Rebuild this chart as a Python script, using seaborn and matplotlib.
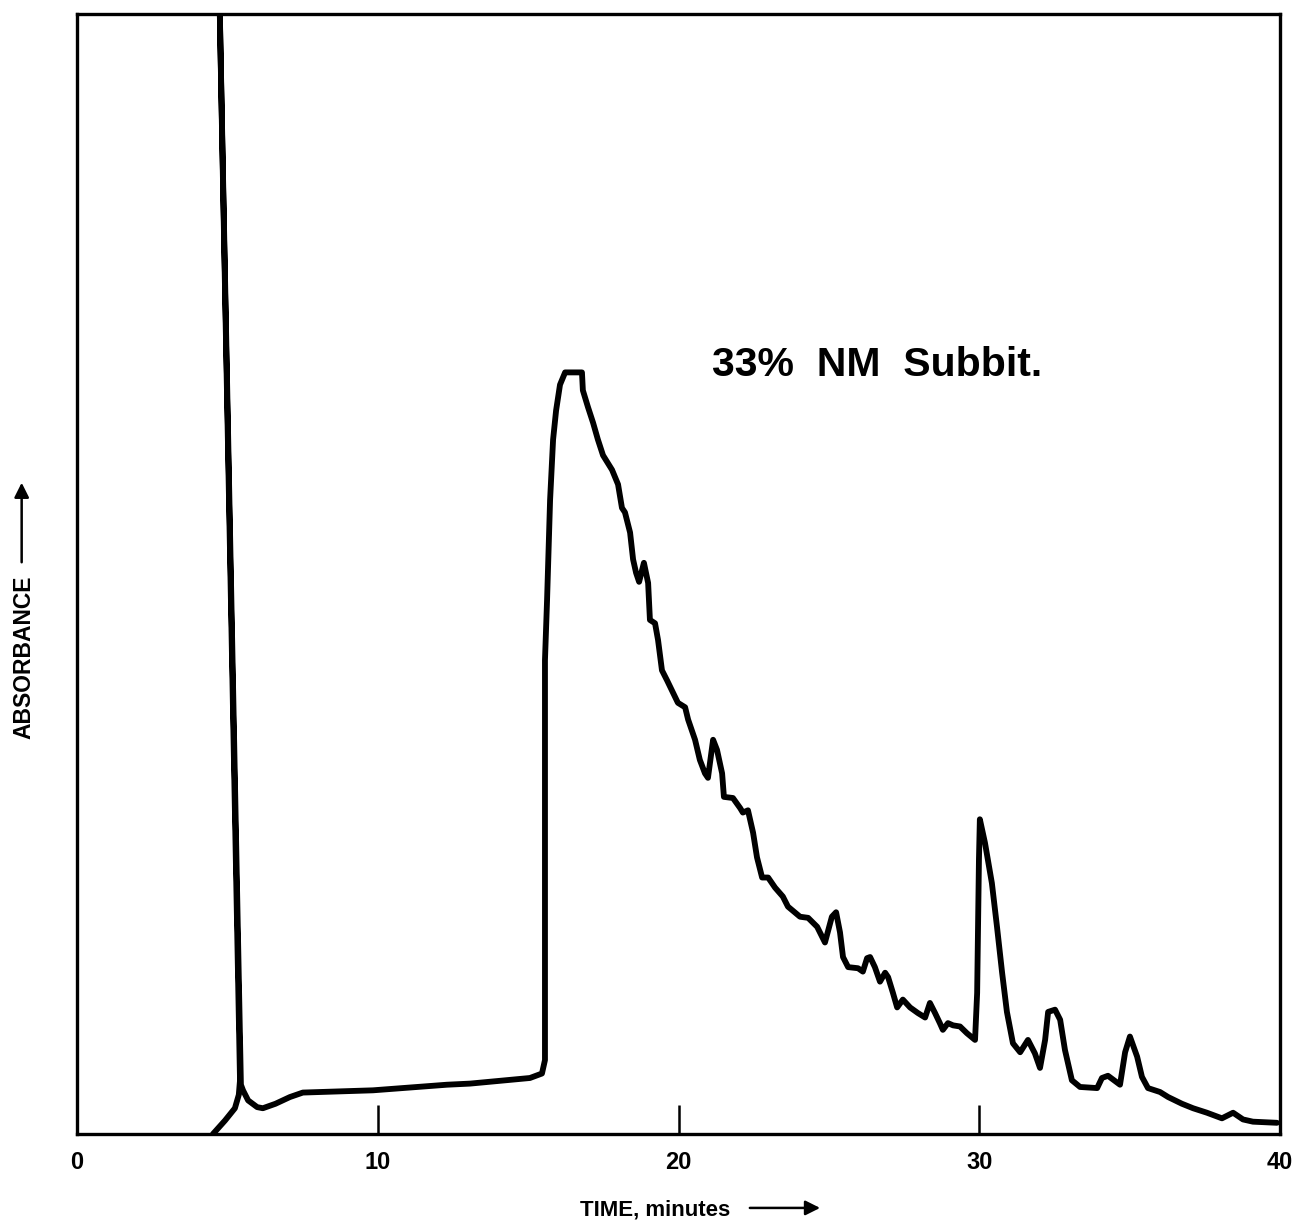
import matplotlib
matplotlib.use("Agg")
import matplotlib.pyplot as plt
import seaborn as sns
import pandas as pd

# ---- data ----
time_min = [
    4.52, 4.92, 5.25, 5.38, 5.42, 4.72, 5.45, 5.52, 5.69, 5.99, 6.18, 6.60, 7.08, 7.51,
    9.84, 12.30, 13.07, 15.06, 15.46, 15.56, 15.56, 15.63, 15.73, 15.83, 15.93, 16.06,
    16.23, 16.79, 16.82, 16.99, 17.16, 17.32, 17.49, 17.79, 17.99, 18.12, 18.22, 18.39,
    18.49, 18.59, 18.69, 18.85, 18.99, 19.05, 19.22, 19.32, 19.45, 19.62, 19.82, 19.98,
    20.22, 20.32, 20.55, 20.71, 20.88, 20.98, 21.15, 21.28, 21.45, 21.51, 21.81, 22.05,
    22.14, 22.31, 22.48, 22.61, 22.78, 22.98, 23.21, 23.47, 23.64, 24.04, 24.31, 24.61,
    24.87, 25.10, 25.24, 25.37, 25.47, 25.64, 25.97, 26.13, 26.27, 26.37, 26.53, 26.70,
    26.87, 26.97, 27.13, 27.27, 27.46, 27.70, 27.96, 28.20, 28.36, 28.53, 28.69, 28.79,
    28.96, 29.13, 29.36, 29.59, 29.86, 29.93, 29.99, 30.02, 30.19, 30.42, 30.59, 30.76,
    30.92, 31.12, 31.36, 31.62, 31.85, 32.02, 32.19, 32.29, 32.52, 32.69, 32.85, 33.08,
    33.35, 33.92, 34.08, 34.28, 34.68, 34.85, 35.01, 35.25, 35.41, 35.61, 36.01, 36.28,
    36.74, 37.11, 37.57, 38.07, 38.44, 38.77, 39.10, 39.90,
]
absorbance = [
    0.0, 1.2, 2.3, 3.5, 4.8, 104.0, 4.4, 3.9, 3.0, 2.4, 2.3, 2.7, 3.3, 3.7,
    3.9, 4.4, 4.5, 5.0, 5.4, 6.6, 42.3, 47.7, 56.6, 62.0, 64.6, 66.9,
    68.0, 68.0, 66.4, 64.9, 63.5, 62.0, 60.6, 59.3, 58.0, 55.9, 55.5, 53.7,
    51.3, 50.1, 49.3, 51.0, 49.2, 45.9, 45.6, 44.1, 41.4, 40.5, 39.4, 38.5,
    38.1, 37.0, 35.2, 33.4, 32.2, 31.8, 35.2, 34.3, 32.2, 30.1, 30.0, 29.1,
    28.7, 28.9, 26.9, 24.7, 22.9, 22.9, 22.0, 21.2, 20.3, 19.4, 19.3, 18.5,
    17.1, 19.4, 19.8, 18.0, 15.8, 14.9, 14.8, 14.5, 15.7, 15.8, 14.9, 13.6,
    14.4, 14.0, 12.6, 11.3, 12.0, 11.3, 10.8, 10.4, 11.7, 10.8, 9.9, 9.3,
    9.9, 9.7, 9.6, 9.0, 8.4, 12.6, 24.5, 28.1, 26.0, 22.4, 18.5, 14.4,
    10.9, 8.1, 7.3, 8.4, 7.2, 5.9, 8.4, 10.9, 11.1, 10.2, 7.5, 4.8,
    4.2, 4.1, 5.0, 5.2, 4.4, 7.3, 8.7, 6.9, 5.1, 4.1, 3.75, 3.3,
    2.7, 2.3, 1.9, 1.4, 1.9, 1.3, 1.1, 1.0,
]
x_ticks = [0, 10, 20, 30, 40]
x_tick_labels = ["0", "10", "20", "30", "40"]
title_text = "33%  NM  Subbit."
x_label = "TIME, minutes"
y_label = "ABSORBANCE"

# ---- styling ----
sns.set_theme(style="white")
plt.rcParams['font.family'] = ['Liberation Sans', 'DejaVu Sans']

fig = plt.figure(figsize=(12.96, 12.25), dpi=100)
ax = fig.add_axes([77 / 1296, 1 - 1134 / 1225, (1280 - 77) / 1296, (1134 - 14) / 1225])

df = pd.DataFrame({"time": time_min, "absorbance": absorbance})
sns.lineplot(data=df, x="time", y="absorbance", sort=False, estimator=None,
             color="black", linewidth=4.2, ax=ax, legend=False)
for ln in ax.get_lines():
    ln.set_solid_joinstyle("round")
    ln.set_solid_capstyle("round")

ax.set_xlim(0, 40)
ax.set_ylim(0, 100)
ax.set_xticks(x_ticks)
ax.set_xticklabels(x_tick_labels, fontweight="bold")
ax.set_yticks([])
ax.tick_params(axis="x", direction="in", length=21, width=1.8, pad=12,
               labelsize=17, colors="black", bottom=True)
ax.set_xlabel("")
ax.set_ylabel("")

for side in ["top", "bottom", "left", "right"]:
    ax.spines[side].set_visible(True)
    ax.spines[side].set_color("black")
    ax.spines[side].set_linewidth(2.4)

# annotation inside the plot
ax.text(21.1, 68.7, title_text, fontsize=29.5, fontweight="bold",
        ha="left", va="center", color="black")

# x-axis label with arrow
ax.text(0.418, -0.068, x_label, transform=ax.transAxes, fontsize=16,
        fontweight="bold", ha="left", va="center", color="black")
ax.annotate("", xy=(0.620, -0.066), xytext=(0.557, -0.066),
            xycoords=ax.transAxes, textcoords=ax.transAxes,
            arrowprops=dict(arrowstyle="-|>", color="black", lw=1.8,
                            mutation_scale=22), annotation_clip=False)

# y-axis label with arrow
ax.text(-0.044, 0.426, y_label, transform=ax.transAxes, fontsize=16.5,
        fontweight="bold", ha="center", va="center", rotation=90, color="black")
ax.annotate("", xy=(-0.046, 0.584), xytext=(-0.046, 0.508),
            xycoords=ax.transAxes, textcoords=ax.transAxes,
            arrowprops=dict(arrowstyle="-|>", color="black", lw=1.8,
                            mutation_scale=22), annotation_clip=False)

fig.savefig("out.png", dpi=100, facecolor="white")
